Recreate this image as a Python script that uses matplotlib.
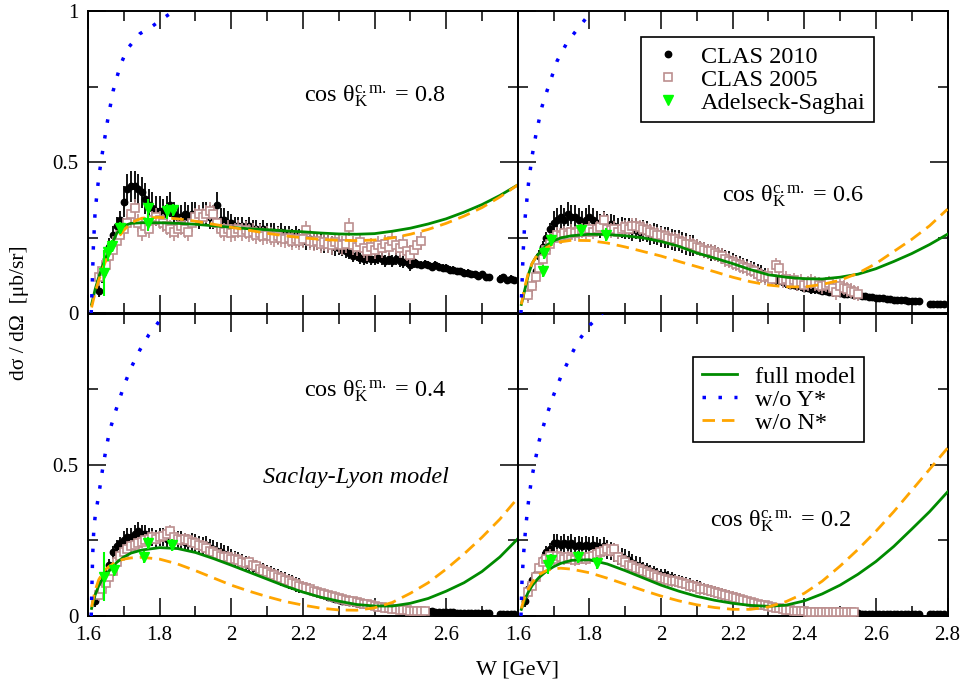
import numpy as np
import matplotlib
matplotlib.use("Agg")
import matplotlib.pyplot as plt
from matplotlib.lines import Line2D
from matplotlib.ticker import MultipleLocator

plt.rcParams.update({
    "font.family": ["Liberation Serif", "DejaVu Serif"],
    "mathtext.fontset": "custom",
    "mathtext.rm": "Liberation Serif",
    "mathtext.it": "Liberation Serif:italic",
    "mathtext.bf": "Liberation Serif:bold",
})

nan = np.nan

# ---------------- CLAS 2010 (W = 1.62 ... 2.79 GeV, 10 MeV bins) ----------------
w_clas10 = np.round(np.arange(1.62, 2.795, 0.01), 2)

clas10_08 = [nan, 0.075, 0.13, 0.18, 0.22, 0.26, 0.29, 0.31, 0.37, 0.41,
             0.42, 0.42, 0.41, 0.40, 0.38, 0.36, 0.35, 0.34, 0.34, 0.33,
             0.35, 0.36, 0.33, 0.32, 0.32, 0.33, 0.32, 0.33, 0.33, 0.32,
             0.33, 0.33, 0.32, 0.32, 0.36, 0.31, 0.31, 0.30, 0.30, 0.29,
             0.29, 0.29, 0.28, 0.29, 0.28, 0.28, 0.27, 0.28, 0.27, 0.27,
             0.27, 0.26, 0.27, 0.26, 0.26, 0.25, 0.26, 0.25, 0.25, 0.24,
             0.245, 0.24, 0.24, 0.235, 0.23, 0.23, 0.225, 0.22, 0.215, 0.21,
             0.205, 0.20, 0.19, 0.195, 0.185, 0.18, 0.185, 0.18, 0.18, 0.185,
             0.18, 0.175, 0.18, 0.175, 0.18, 0.175, 0.17, 0.175, 0.16, 0.17,
             0.165, 0.16, 0.165, 0.16, 0.155, 0.16, 0.155, 0.15, 0.15, 0.145,
             0.145, 0.14, 0.14, 0.135, 0.135, 0.13, 0.13, 0.125, 0.13, 0.12,
             0.12, nan, nan, 0.115, 0.12, 0.11, 0.115, 0.11]
clas10_08_err = [0.02] * 2 + [0.03] * 6 + [0.05] * 12 + [0.04] * 18 + [0.03] * 30 + [0.02] * 22 + [0.012] * 28

clas10_06 = [nan, 0.06, 0.09, 0.14, 0.19, 0.22, 0.25, 0.28, 0.30, 0.31,
             0.32, 0.31, 0.33, 0.32, 0.32, 0.31, 0.30, 0.31, 0.32, 0.31,
             0.30, 0.29, 0.30, 0.29, 0.295, 0.29, 0.28, 0.285, 0.28, 0.28,
             0.275, 0.28, 0.27, 0.275, 0.27, 0.26, 0.265, 0.26, 0.255, 0.25,
             0.25, 0.245, 0.24, 0.24, 0.235, 0.23, 0.225, 0.225, 0.22, 0.215,
             0.21, 0.205, 0.20, 0.20, 0.195, 0.19, 0.185, 0.18, 0.175, 0.17,
             0.165, 0.16, 0.155, 0.15, 0.145, 0.14, 0.135, 0.125, 0.12, 0.115,
             0.11, 0.11, 0.105, 0.10, 0.095, 0.095, 0.09, 0.09, 0.085, 0.085,
             0.08, 0.08, 0.078, 0.075, 0.075, 0.072, 0.07, 0.07, 0.068, 0.066,
             0.065, 0.063, 0.062, 0.06, 0.058, 0.057, 0.055, 0.054, 0.052, 0.051,
             0.05, 0.048, 0.047, 0.046, 0.045, 0.044, 0.043, 0.042, 0.041, 0.04,
             0.04, nan, nan, 0.033, 0.033, 0.032, 0.032, 0.031]
clas10_06_err = [0.02] * 8 + [0.04] * 16 + [0.035] * 24 + [0.025] * 20 + [0.015] * 20 + [0.006] * 30

clas10_04 = [0.05, 0.08, 0.11, 0.14, 0.17, 0.21, 0.23, 0.24, 0.25, 0.26,
             0.26, 0.27, 0.28, 0.27, 0.27, 0.26, 0.26, 0.255, 0.26, 0.26,
             0.255, 0.26, 0.255, 0.25, 0.25, 0.245, 0.24, 0.245, 0.24, 0.235,
             0.23, 0.235, 0.225, 0.22, 0.215, 0.21, 0.205, 0.20, 0.195, 0.19,
             0.185, 0.18, 0.175, 0.17, 0.165, 0.16, 0.155, 0.15, 0.145, 0.14,
             0.135, 0.13, 0.125, 0.12, 0.115, 0.11, 0.105, 0.10, 0.095, 0.09,
             0.085, 0.08, 0.076, 0.072, 0.068, 0.064, 0.06, 0.057, 0.054, 0.051,
             0.049, 0.047, 0.045, 0.043, 0.041, 0.039, 0.037, 0.035, 0.033, 0.031,
             0.03, 0.028, 0.027, 0.025, 0.024, 0.023, 0.022, 0.021, 0.02, 0.019,
             0.018, 0.017, 0.016, 0.016, 0.015, 0.014, 0.014, 0.013, 0.013, 0.012,
             0.012, 0.011, 0.011, 0.011, 0.01, 0.01, 0.01, 0.01, 0.009, 0.009,
             0.009, nan, nan, 0.008, 0.008, 0.008, 0.007, 0.007]
clas10_04_err = [0.02] * 8 + [0.03] * 30 + [0.025] * 20 + [0.015] * 20 + [0.006] * 40

clas10_02 = [0.05, 0.09, 0.12, 0.14, 0.16, 0.19, 0.21, 0.22, 0.24, 0.24,
             0.235, 0.24, 0.235, 0.24, 0.23, 0.235, 0.23, 0.235, 0.23, 0.235,
             0.23, 0.225, 0.23, 0.22, 0.215, 0.21, 0.20, 0.195, 0.19, 0.185,
             0.175, 0.17, 0.165, 0.16, 0.155, 0.15, 0.145, 0.14, 0.135, 0.135,
             0.13, 0.125, 0.12, 0.115, 0.112, 0.11, 0.105, 0.10, 0.098, 0.095,
             0.09, 0.087, 0.083, 0.08, 0.076, 0.072, 0.068, 0.065, 0.062, 0.058,
             0.055, 0.052, 0.049, 0.046, 0.043, 0.04, 0.038, 0.035, 0.032, 0.03,
             0.028, 0.026, 0.024, 0.022, 0.02, 0.019, 0.017, 0.016, 0.015, 0.014,
             0.013, 0.013, 0.012, 0.012, 0.011, 0.011, 0.01, 0.01, 0.01, 0.01,
             0.009, 0.009, 0.009, 0.009, 0.008, 0.008, 0.008, 0.008, 0.008, 0.007,
             0.007, 0.007, 0.007, 0.007, 0.007, 0.007, 0.006, 0.006, 0.006, 0.006,
             0.006, nan, nan, 0.006, 0.006, 0.005, 0.005, 0.005]
clas10_02_err = [0.02] * 8 + [0.03] * 25 + [0.02] * 25 + [0.012] * 20 + [0.005] * 40

# ---------------- CLAS 2005 (from W = 1.63 GeV, 10 MeV bins) ----------------
clas05_08 = [0.12, 0.14, 0.16, 0.19, 0.21, 0.24, 0.26, 0.28, 0.30, 0.33,
             0.35, 0.30, 0.27, 0.29, 0.28, 0.31, 0.32, 0.31, 0.30, 0.29,
             0.28, 0.27, 0.28, 0.29, 0.28, 0.27, 0.30, 0.32, 0.33, 0.32,
             0.33, 0.34, 0.33, 0.30, 0.28, 0.27, 0.28, 0.265, 0.27, 0.28,
             0.27, 0.275, 0.265, 0.27, 0.26, 0.265, 0.255, 0.26, 0.255, 0.25,
             0.255, 0.25, 0.245, 0.25, 0.24, 0.245, 0.24, 0.245, 0.275, 0.24,
             0.235, 0.24, 0.23, 0.235, 0.23, 0.225, 0.235, 0.23, 0.225, 0.23,
             0.285, 0.225, 0.22, 0.235, 0.215, 0.205, 0.22, 0.21, 0.225, 0.215,
             0.23, 0.22, 0.24, 0.225, 0.215, 0.23, 0.205, 0.195, 0.21, 0.225,
             0.24]
clas05_08_err = [0.03] * 91

clas05_06 = [0.06, 0.09, 0.12, 0.15, 0.18, 0.21, 0.23, 0.25, 0.26, 0.255,
             0.265, 0.26, 0.27, 0.265, 0.27, 0.275, 0.27, 0.28, 0.27, 0.28,
             0.285, 0.31, 0.28, 0.275, 0.28, 0.27, 0.28, 0.285, 0.28, 0.29,
             0.29, 0.285, 0.28, 0.275, 0.27, 0.265, 0.26, 0.26, 0.255, 0.25,
             0.245, 0.245, 0.24, 0.235, 0.23, 0.23, 0.225, 0.22, 0.215, 0.21,
             0.205, 0.205, 0.20, 0.195, 0.19, 0.18, 0.175, 0.17, 0.165, 0.16,
             0.155, 0.15, 0.145, 0.14, 0.13, 0.125, 0.12, 0.125, 0.115, 0.16,
             0.15, 0.11, 0.115, 0.105, 0.11, 0.10, 0.105, 0.095, 0.10, 0.105,
             0.10, 0.095, 0.09, 0.095, 0.10, 0.085, 0.07, 0.09, 0.085, 0.08,
             0.075, 0.07, 0.065]
clas05_06_err = [0.025] * 93

clas05_04 = [0.07, 0.09, 0.11, 0.13, 0.15, 0.18, 0.20, 0.21, 0.22, 0.23,
             0.235, 0.24, 0.245, 0.25, 0.255, 0.26, 0.255, 0.26, 0.265, 0.27,
             0.28, 0.26, 0.255, 0.25, 0.255, 0.25, 0.245, 0.24, 0.235, 0.23,
             0.225, 0.215, 0.21, 0.205, 0.20, 0.195, 0.195, 0.19, 0.19, 0.185,
             0.18, 0.175, 0.18, 0.17, 0.165, 0.155, 0.15, 0.145, 0.14, 0.135,
             0.13, 0.125, 0.12, 0.115, 0.11, 0.105, 0.10, 0.097, 0.093, 0.088,
             0.084, 0.08, 0.076, 0.072, 0.068, 0.065, 0.062, 0.058, 0.055, 0.052,
             0.05, 0.048, 0.046, 0.043, 0.041, 0.039, 0.036, 0.033, 0.031, 0.029,
             0.027, 0.025, 0.024, 0.022, 0.021, 0.02, 0.019, 0.018, 0.018, 0.017,
             0.017, 0.016]
clas05_04_err = [0.02] * 60 + [0.01] * 32

clas05_02 = [0.08, 0.10, 0.13, 0.16, 0.18, 0.19, 0.20, 0.19, 0.20, 0.195,
             0.19, 0.195, 0.19, 0.185, 0.19, 0.195, 0.19, 0.195, 0.20, 0.205,
             0.21, 0.215, 0.22, 0.215, 0.22, 0.195, 0.185, 0.18, 0.17, 0.165,
             0.16, 0.155, 0.15, 0.145, 0.14, 0.135, 0.13, 0.125, 0.122, 0.12,
             0.117, 0.115, 0.112, 0.11, 0.105, 0.10, 0.098, 0.095, 0.09, 0.088,
             0.085, 0.082, 0.08, 0.076, 0.073, 0.07, 0.066, 0.063, 0.06, 0.056,
             0.053, 0.05, 0.047, 0.044, 0.041, 0.038, 0.035, 0.033, 0.03, 0.028,
             0.025, 0.023, 0.021, 0.019, 0.018, 0.016, 0.015, 0.015, 0.014, 0.014,
             0.013, 0.013, 0.013, 0.012, 0.012, 0.012, 0.012, 0.012, 0.012, 0.012,
             0.012, 0.013]
clas05_02_err = [0.02] * 60 + [0.008] * 32

# ---------------- Adelseck-Saghai ----------------
as_w_08 = [1.646, 1.657, 1.666, 1.689, 1.768, 1.768, 1.820, 1.838]
as_08 = [0.134, 0.202, 0.222, 0.283, 0.349, 0.299, 0.338, 0.341]
as_08_err = [0.077, 0.03, 0.02, 0.02, 0.03, 0.025, 0.025, 0.02]

as_w_06 = [1.670, 1.674, 1.693, 1.777, 1.846]
as_06 = [0.14, 0.20, 0.242, 0.277, 0.261]
as_06_err = [0.02, 0.02, 0.02, 0.02, 0.02]

as_w_04 = [1.646, 1.673, 1.757, 1.768, 1.835]
as_04 = [0.13, 0.153, 0.196, 0.24, 0.235]
as_04_err = [0.08, 0.02, 0.02, 0.02, 0.02]

as_w_02 = [1.685, 1.694, 1.769, 1.820]
as_02 = [0.169, 0.186, 0.196, 0.174]
as_02_err = [0.03, 0.02, 0.02, 0.02]

# ---------------- Saclay-Lyon model curves ----------------
w_model = [1.61, 1.62, 1.63, 1.64, 1.65, 1.66, 1.68, 1.70, 1.72, 1.75,
           1.80, 1.85, 1.90, 1.95, 2.00, 2.05, 2.10, 2.15, 2.20, 2.25,
           2.30, 2.35, 2.40, 2.45, 2.50, 2.55, 2.60, 2.65, 2.70, 2.75, 2.80]

full_08 = [0.03, 0.08, 0.12, 0.155, 0.185, 0.21, 0.265, 0.29, 0.298, 0.30,
           0.30, 0.298, 0.295, 0.29, 0.285, 0.28, 0.277, 0.273, 0.27, 0.266,
           0.263, 0.262, 0.264, 0.272, 0.282, 0.296, 0.313, 0.335, 0.36, 0.39, 0.425]
noN_08 = [0.02, 0.07, 0.11, 0.145, 0.175, 0.20, 0.245, 0.275, 0.30, 0.315,
          0.318, 0.313, 0.305, 0.295, 0.285, 0.275, 0.265, 0.257, 0.25, 0.245,
          0.242, 0.241, 0.243, 0.25, 0.262, 0.278, 0.298, 0.322, 0.35, 0.385, 0.425]

full_06 = [0.03, 0.08, 0.13, 0.165, 0.185, 0.20, 0.225, 0.24, 0.25, 0.257,
           0.262, 0.261, 0.257, 0.25, 0.238, 0.222, 0.20, 0.183, 0.165, 0.145,
           0.128, 0.12, 0.115, 0.114, 0.12, 0.13, 0.148, 0.172, 0.198, 0.228, 0.262]
noN_06 = [0.03, 0.09, 0.135, 0.165, 0.185, 0.20, 0.218, 0.23, 0.237, 0.242,
          0.241, 0.233, 0.22, 0.205, 0.19, 0.172, 0.155, 0.138, 0.12, 0.105,
          0.094, 0.088, 0.088, 0.096, 0.11, 0.133, 0.165, 0.205, 0.245, 0.29, 0.345]

full_04 = [0.025, 0.07, 0.10, 0.122, 0.138, 0.15, 0.177, 0.195, 0.208, 0.218,
           0.226, 0.223, 0.21, 0.19, 0.168, 0.145, 0.122, 0.099, 0.079, 0.062,
           0.049, 0.038, 0.033, 0.033, 0.042, 0.058, 0.082, 0.11, 0.147, 0.195, 0.255]
noN_04 = [0.03, 0.085, 0.12, 0.14, 0.155, 0.165, 0.18, 0.188, 0.192, 0.194,
          0.188, 0.172, 0.15, 0.126, 0.102, 0.082, 0.064, 0.048, 0.036, 0.026,
          0.02, 0.019, 0.027, 0.045, 0.075, 0.11, 0.155, 0.205, 0.26, 0.32, 0.39]

full_02 = [0.022, 0.055, 0.08, 0.10, 0.115, 0.128, 0.148, 0.163, 0.174, 0.184,
           0.186, 0.172, 0.15, 0.126, 0.102, 0.082, 0.065, 0.052, 0.042, 0.035,
           0.032, 0.036, 0.05, 0.073, 0.102, 0.138, 0.18, 0.23, 0.287, 0.345, 0.41]
noN_02 = [0.025, 0.065, 0.09, 0.11, 0.125, 0.137, 0.15, 0.156, 0.158, 0.155,
          0.143, 0.125, 0.105, 0.085, 0.066, 0.05, 0.037, 0.028, 0.022, 0.022,
          0.03, 0.048, 0.075, 0.115, 0.165, 0.22, 0.28, 0.345, 0.415, 0.485, 0.555]

# model without hyperon resonances (rises out of the frame)
noY_w_08 = [1.609, 1.612, 1.615, 1.62, 1.63, 1.64, 1.655, 1.67, 1.69, 1.71, 1.745, 1.78, 1.81, 1.84, 1.87]
noY_08 = [0.0, 0.10, 0.22, 0.34, 0.45, 0.53, 0.64, 0.735, 0.82, 0.875, 0.925, 0.95, 0.976, 1.0, 1.03]
noY_w_06 = [1.609, 1.612, 1.615, 1.62, 1.63, 1.64, 1.652, 1.668, 1.68, 1.71, 1.735, 1.75, 1.78, 1.80, 1.83]
noY_06 = [0.0, 0.10, 0.20, 0.31, 0.43, 0.52, 0.60, 0.685, 0.73, 0.835, 0.89, 0.915, 0.96, 0.99, 1.03]
noY_w_04 = [1.609, 1.611, 1.613, 1.616, 1.62, 1.63, 1.64, 1.65, 1.66, 1.675, 1.70, 1.72, 1.745, 1.77, 1.79, 1.82]
noY_04 = [0.0, 0.10, 0.20, 0.28, 0.33, 0.40, 0.48, 0.55, 0.61, 0.67, 0.76, 0.82, 0.88, 0.93, 0.96, 1.01]
noY_w_02 = [1.609, 1.612, 1.616, 1.622, 1.628, 1.638, 1.648, 1.66, 1.677, 1.70, 1.72, 1.75, 1.77, 1.80, 1.835, 1.86]
noY_02 = [0.0, 0.12, 0.20, 0.29, 0.36, 0.45, 0.51, 0.58, 0.65, 0.73, 0.79, 0.865, 0.91, 0.96, 1.0, 1.03]

cos_labels = ["0.8", "0.6", "0.4", "0.2"]

# ---------------- styles ----------------
C_FULL = "#008b00"
C_NOY = "#0000ff"
C_NON = "#ffa500"
C_C05 = "#bc8f8f"
C_AS = "#00ff00"
NOY_DASH = (1, 3.6)
NON_DASH = (4.5, 2.5)

fig = plt.figure(figsize=(9.66, 6.84), dpi=100)
L, R, T, B = 88 / 966, 947.5 / 966, 1 - 11 / 684, 1 - 616 / 684
pw, ph = (R - L) / 2, (T - B) / 2
ax_tl = fig.add_axes([L, B + ph, pw, ph])
ax_tr = fig.add_axes([L + pw, B + ph, pw, ph])
ax_bl = fig.add_axes([L, B, pw, ph])
ax_br = fig.add_axes([L + pw, B, pw, ph])

panels = [
    (ax_tl, clas10_08, clas10_08_err, clas05_08, clas05_08_err, as_w_08, as_08, as_08_err,
     full_08, noN_08, noY_w_08, noY_08),
    (ax_tr, clas10_06, clas10_06_err, clas05_06, clas05_06_err, as_w_06, as_06, as_06_err,
     full_06, noN_06, noY_w_06, noY_06),
    (ax_bl, clas10_04, clas10_04_err, clas05_04, clas05_04_err, as_w_04, as_04, as_04_err,
     full_04, noN_04, noY_w_04, noY_04),
    (ax_br, clas10_02, clas10_02_err, clas05_02, clas05_02_err, as_w_02, as_02, as_02_err,
     full_02, noN_02, noY_w_02, noY_02),
]

for (ax, c10, c10e, c05, c05e, asw, asv, ase, full, non, noyw, noy) in panels:
    ax.errorbar(w_clas10, c10, yerr=c10e, fmt="o", ms=4.6, color="k", ecolor="k",
                elinewidth=1.3, capsize=0, zorder=2)
    w05 = np.round(1.63 + 0.01 * np.arange(len(c05)), 2)
    ax.errorbar(w05, c05, yerr=c05e, fmt="s", ms=5.5, mfc="white", mec=C_C05, mew=1.2,
                ecolor=C_C05, elinewidth=1.2, capsize=0, zorder=3)
    ax.plot(w_model, full, color=C_FULL, lw=2.0, zorder=4)
    ax.plot(w_model, non, color=C_NON, lw=2.0, dashes=NON_DASH, zorder=4)
    ax.plot(noyw, noy, color=C_NOY, lw=2.5, dashes=NOY_DASH, zorder=4)
    ax.errorbar(asw, asv, yerr=ase, fmt="v", ms=7.5, color=C_AS, ecolor=C_AS,
                elinewidth=1.5, capsize=0, zorder=5)

    ax.set_xlim(1.6, 2.8)
    ax.set_ylim(0, 1)
    ax.xaxis.set_major_locator(MultipleLocator(0.2))
    ax.xaxis.set_minor_locator(MultipleLocator(0.1))
    ax.yaxis.set_major_locator(MultipleLocator(0.5))
    ax.yaxis.set_minor_locator(MultipleLocator(0.25))
    ax.tick_params(which="both", direction="in", top=True, right=True, labelsize=15)
    ax.tick_params(which="major", length=13, width=1.1, pad=7)
    ax.tick_params(which="minor", length=7, width=1.1)
    for s in ax.spines.values():
        s.set_linewidth(1.4)

xt = [1.6, 1.8, 2.0, 2.2, 2.4, 2.6, 2.8]
for ax in (ax_tl, ax_tr):
    ax.tick_params(labelbottom=False)
for ax in (ax_tr, ax_br):
    ax.tick_params(labelleft=False)
ax_bl.set_xticks(xt)
ax_bl.set_xticklabels(["1.6", "1.8", "2", "2.2", "2.4", "2.6", ""])
ax_br.set_xticks(xt)
ax_br.set_xticklabels(["1.6", "1.8", "2", "2.2", "2.4", "2.6", "2.8"])
ax_tl.set_yticks([0, 0.5, 1])
ax_tl.set_yticklabels(["0", "0.5", "1"])
ax_bl.set_yticks([0, 0.5, 1])
ax_bl.set_yticklabels(["0", "0.5", ""])

# angle annotations
lab_pos = [(ax_tl, 2.401, 0.718), (ax_tr, 2.370, 0.389), (ax_bl, 2.401, 0.742), (ax_br, 2.336, 0.313)]
for (ax, x, y), c in zip(lab_pos, cos_labels):
    ax.text(x, y, r"cos θ$_{\mathrm{K}}^{\mathrm{c.m.}}$ = " + c, ha="center", va="center",
            fontsize=17.5, zorder=6)

ax_bl.text(2.348, 0.457, "Saclay-Lyon model", style="italic", ha="center", va="center",
           fontsize=17.5)

# legends
h_data = [
    Line2D([], [], ls="none", marker="o", ms=4.6, color="k"),
    Line2D([], [], ls="none", marker="s", ms=5.5, mfc="white", mec=C_C05, mew=1.2),
    Line2D([], [], ls="none", marker="v", ms=7.5, color=C_AS),
]
leg1 = ax_tr.legend(h_data, ["CLAS 2010", "CLAS 2005", "Adelseck-Saghai"],
                    loc="upper left", bbox_to_anchor=(641 / 966, 1 - 37 / 684),
                    bbox_transform=fig.transFigure, fontsize=17.5, frameon=True,
                    fancybox=False, framealpha=1, edgecolor="k", borderpad=0.35,
                    handlelength=1.5, handletextpad=0.6, labelspacing=0.05,
                    borderaxespad=0)
leg1.get_frame().set_linewidth(1.2)

h_mod = [
    Line2D([], [], color=C_FULL, lw=2.0),
    Line2D([], [], color=C_NOY, lw=2.5, dashes=NOY_DASH),
    Line2D([], [], color=C_NON, lw=2.0, dashes=NON_DASH),
]
leg2 = ax_br.legend(h_mod, ["full model", "w/o Y*", "w/o N*"],
                    loc="upper left", bbox_to_anchor=(693 / 966, 1 - 357 / 684),
                    bbox_transform=fig.transFigure, fontsize=17.5, frameon=True,
                    fancybox=False, framealpha=1, edgecolor="k", borderpad=0.35,
                    handlelength=1.45, handletextpad=0.75, labelspacing=0.05,
                    borderaxespad=0)
leg2.get_frame().set_linewidth(1.2)

fig.text(20 / 966, 1 - 313 / 684, "dσ / dΩ  [μb/sr]", rotation=90, ha="center", va="center",
         fontsize=15.5)
fig.text(518 / 966, 1 - 670 / 684, "W [GeV]", ha="center", va="center", fontsize=16)

fig.savefig("out.png", dpi=100)
